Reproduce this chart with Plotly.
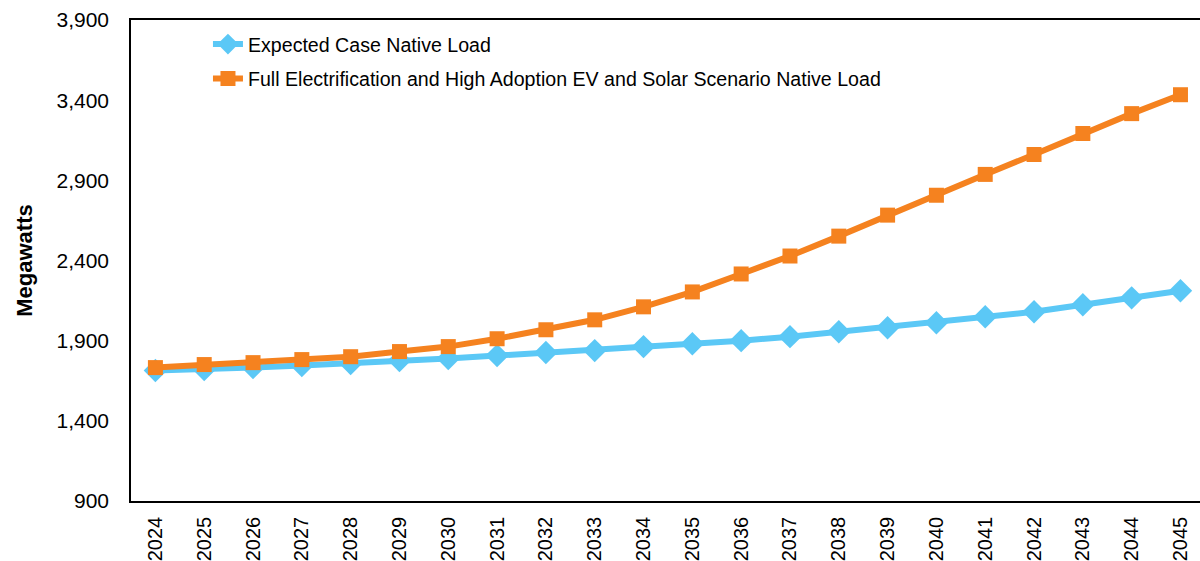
import plotly.graph_objects as go

FONT = "Arial, Liberation Sans, sans-serif"

years = [str(y) for y in range(2024, 2046)]

expected_load = [1714, 1720, 1732, 1745, 1757, 1776, 1788, 1807, 1826, 1838, 1863,
                 1881, 1900, 1925, 1956, 1981, 2012, 2049, 2080, 2124, 2167, 2211]

full_electrification_load = [1732, 1751, 1763, 1782, 1800, 1832, 1863, 1912, 1968, 2030, 2111,
                             2204, 2316, 2428, 2552, 2683, 2807, 2937, 3061, 3192, 3316, 3434]

y_ticks = [900, 1400, 1900, 2400, 2900, 3400, 3900]

fig = go.Figure()
fig.add_trace(go.Scatter(
    x=years, y=expected_load,
    mode="lines+markers",
    name="Expected Case Native Load",
    legendgroup="expected",
    line=dict(color="#5BC8F6", width=6),
    marker=dict(symbol="diamond", size=18, color="#5BC8F6"),
))
fig.add_trace(go.Scatter(
    x=years, y=full_electrification_load,
    mode="lines+markers",
    name="Full Electrification and High Adoption EV and Solar Scenario Native Load",
    legendgroup="full",
    line=dict(color="#F5821F", width=6),
    marker=dict(symbol="square", size=15, color="#F5821F"),
))

fig.update_layout(
    width=1200, height=561,
    margin=dict(l=131, r=0, t=20, b=58),
    paper_bgcolor="white",
    plot_bgcolor="white",
    font=dict(family=FONT, color="black"),
    showlegend=True,
    legend=dict(
        x=0.072, y=0.99, xanchor="left", yanchor="top",
        font=dict(size=19.6, family=FONT),
        bgcolor="rgba(0,0,0,0)",
        itemwidth=30,
        tracegroupgap=6,
    ),
    xaxis=dict(
        type="category",
        range=[-0.5, 21.4],
        showline=True, linecolor="black", linewidth=1.5, mirror=True,
        showgrid=False, ticks="",
        tickangle=-90,
        tickfont=dict(size=20),
        ticklabelstandoff=6,
    ),
    yaxis=dict(
        range=[900, 3900],
        tickvals=y_ticks,
        tickformat=",d",
        showline=True, linecolor="black", linewidth=1.5,
        showgrid=False, zeroline=False, ticks="",
        tickfont=dict(size=21),
        ticklabelstandoff=16,
        title=dict(text="<b>Megawatts</b>", font=dict(size=22), standoff=18),
    ),
)

fig.write_html("out.html", config={"displayModeBar": False},
               post_script="document.body.style.margin='0';")
